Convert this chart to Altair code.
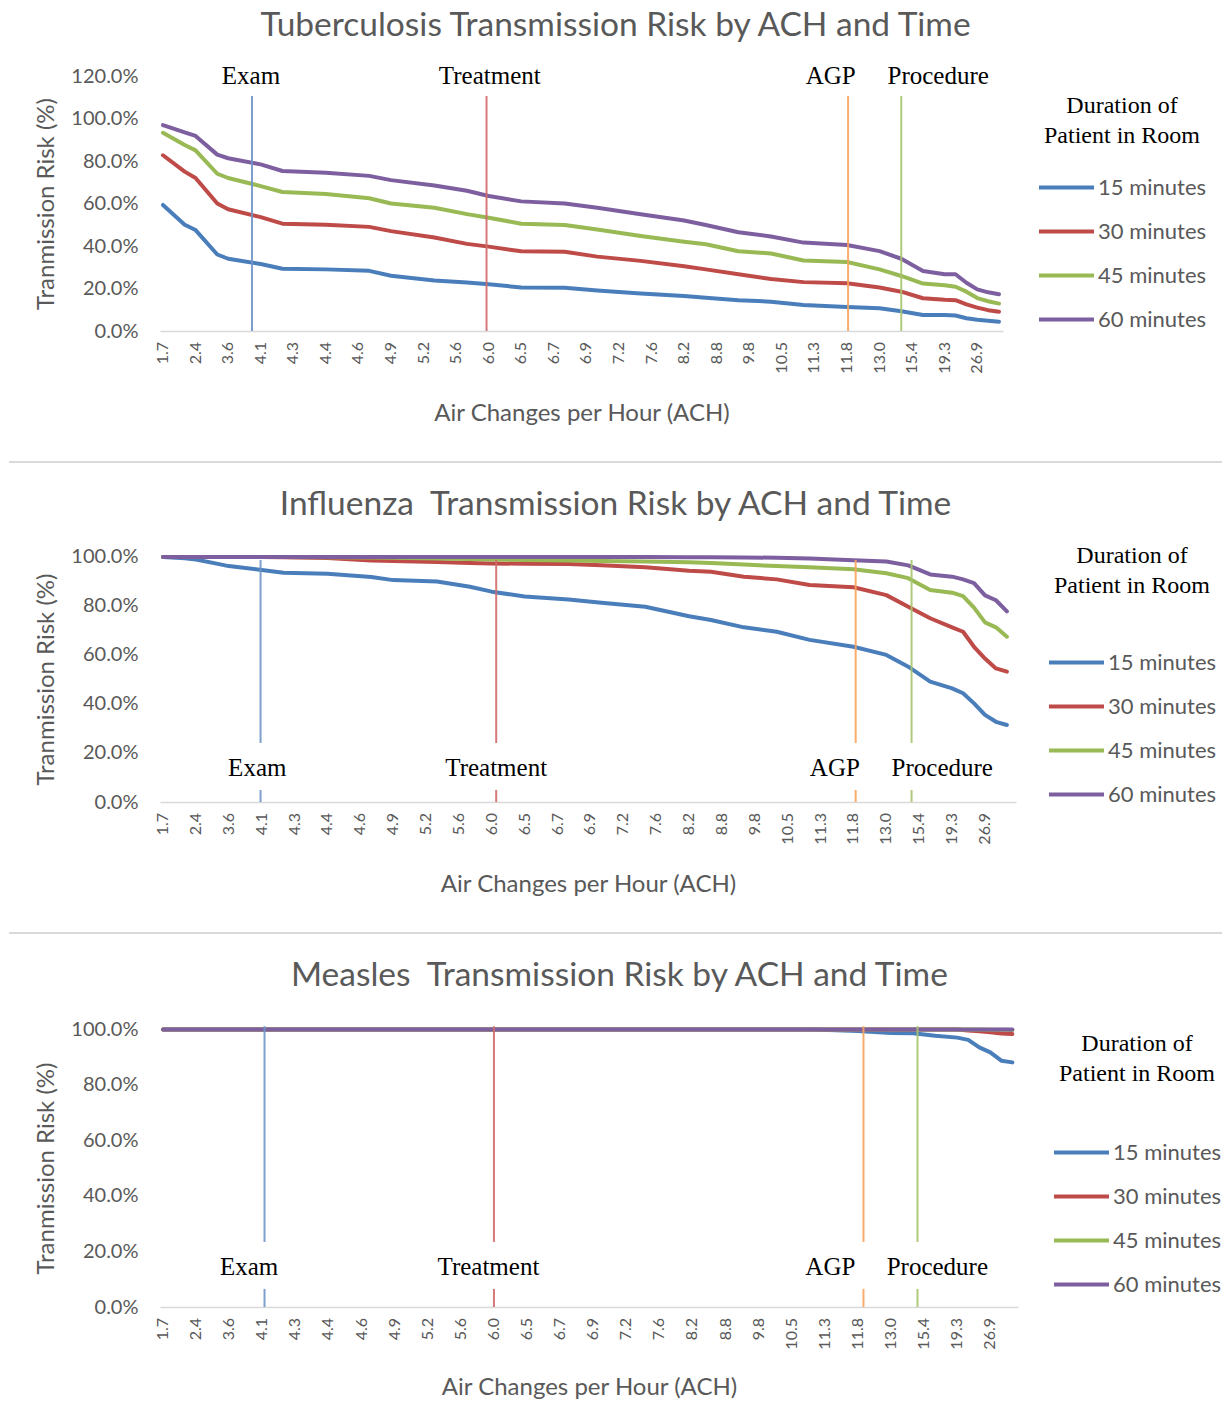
import altair as alt
import pandas as pd

# ---------------- data ----------------
ach_labels = ["1.7", "2.4", "3.6", "4.1", "4.3", "4.4", "4.6", "4.9", "5.2", "5.6",
              "6.0", "6.5", "6.7", "6.9", "7.2", "7.6", "8.2", "8.8", "9.8", "10.5",
              "11.3", "11.8", "13.0", "15.4", "19.3", "26.9"]
# category position (0 = first room) of every value read below; every 3rd category is labelled
pos_idx = [0, 2, 3, 5, 6, 9, 11, 15, 19, 21, 25, 28, 30, 33, 37, 40, 44, 48, 50, 53,
           56, 59, 63, 66, 68, 70, 72, 73, 74, 75, 76, 77]
label_every = 3

series_names = ["15 minutes", "30 minutes", "45 minutes", "60 minutes"]
series_colors = ["#4A7EBB", "#BE4B48", "#98B954", "#7D5FA0"]

tb_15 = [59.3, 50, 47.5, 36, 34, 31.5, 29.3, 29, 28.3, 26, 23.8, 22.8, 22, 20.5, 20.3, 19.1,
         17.6, 16.5, 15.7, 14.5, 13.8, 12.2, 11.3, 10.7, 9.3, 7.5, 7.5, 7.3, 6, 5.3, 4.8, 4.4]
tb_30 = [82.7, 75, 72, 60, 57.3, 53.6, 50.5, 50, 49, 47, 44, 41, 39.7, 37.5, 37.3, 35,
         33, 30.5, 29, 26.7, 24.5, 23, 22.5, 20.5, 18.5, 15.4, 14.7, 14.5, 12.5, 11, 9.8, 9.1]
tb_45 = [93.3, 87.5, 85, 74, 72, 68.2, 65.4, 64.5, 62.5, 60, 58, 55, 53.3, 50.5, 49.9, 47.8,
         44.7, 42, 40.8, 37.5, 36.5, 33.2, 32.5, 29, 25.9, 22.3, 21.5, 20.8, 18.5, 15.5, 14, 12.9]
tb_60 = [96.9, 93.5, 91.8, 83, 81.3, 78.4, 75.3, 74.5, 73, 71, 68.5, 66, 63.5, 61, 60, 58,
         54.9, 52, 49.9, 46.5, 44.5, 41.6, 40.5, 37.6, 34, 28.2, 26.7, 26.7, 22.7, 19.6, 18.2, 17.3]

flu_15 = [99.6, 99.1, 98.6, 96.8, 95.9, 94.3, 93.2, 92.8, 91.5, 90.2, 89.6, 87.5, 85.5, 83.5, 82.3, 81,
          79.4, 75.5, 74, 71, 69.2, 65.9, 63.1, 59.8, 55, 48.9, 46.2, 44.2, 40.1, 35.4, 32.6, 31.3]
flu_30 = [99.6, 99.6, 99.6, 99.6, 99.6, 99.6, 99.5, 99.2, 98.2, 98, 97.6, 97.2, 97, 96.8, 96.7, 96.2,
          95.4, 94, 93.6, 91.6, 90.5, 88.2, 87.3, 84.1, 79.4, 74.7, 71, 69.2, 63.1, 58.3, 54.3, 53]
flu_45 = [99.6, 99.6, 99.6, 99.6, 99.6, 99.6, 99.6, 99.5, 99.4, 99.3, 99, 98.8, 98.6, 98.4, 98.2, 98,
          97.8, 97.5, 97.2, 96.5, 95.9, 95.4, 94.6, 93, 91, 86.2, 85.1, 83.7, 79, 73, 71, 67.2]
flu_60 = [99.6, 99.6, 99.6, 99.6, 99.6, 99.6, 99.6, 99.6, 99.6, 99.6, 99.6, 99.6, 99.6, 99.6, 99.6, 99.6,
          99.6, 99.5, 99.5, 99.4, 99.3, 99, 98.3, 97.8, 96.2, 92.5, 91.6, 90.5, 89, 84, 82, 77.5]

mea_15 = [99.8, 99.8, 99.8, 99.8, 99.8, 99.8, 99.8, 99.8, 99.8, 99.8, 99.8, 99.8, 99.8, 99.8, 99.8, 99.8,
          99.8, 99.8, 99.8, 99.8, 99.8, 99.8, 99.3, 98.6, 98.5, 97.6, 96.9, 96.1, 93.4, 91.6, 88.6, 88]
mea_30 = [99.8, 99.8, 99.8, 99.8, 99.8, 99.8, 99.8, 99.8, 99.8, 99.8, 99.8, 99.8, 99.8, 99.8, 99.8, 99.8,
          99.8, 99.8, 99.8, 99.8, 99.8, 99.8, 99.8, 99.8, 99.8, 99.8, 99.8, 99.5, 99.2, 98.8, 98.4, 98.2]
mea_45 = [99.8, 99.8, 99.8, 99.8, 99.8, 99.8, 99.8, 99.8, 99.8, 99.8, 99.8, 99.8, 99.8, 99.8, 99.8, 99.8,
          99.8, 99.8, 99.8, 99.8, 99.8, 99.8, 99.8, 99.8, 99.8, 99.8, 99.8, 99.8, 99.8, 99.7, 99.7, 99.6]
mea_60 = [99.8, 99.8, 99.8, 99.8, 99.8, 99.8, 99.8, 99.8, 99.8, 99.8, 99.8, 99.8, 99.8, 99.8, 99.8, 99.8,
          99.8, 99.8, 99.8, 99.8, 99.8, 99.8, 99.8, 99.8, 99.8, 99.8, 99.8, 99.8, 99.8, 99.8, 99.8, 99.8]

marker_names = ["Exam", "Treatment", "AGP", "Procedure"]
marker_colors = ["#6E95C9", "#D26A6A", "#F9A35C", "#A7C46E"]
# where each activity line sits on the category axis, per panel
tb_marker_pos = [8.2, 29.8, 63.1, 68.0]
flu_marker_pos = [8.9, 30.4, 63.2, 68.3]
mea_marker_pos = [9.2, 30.0, 63.5, 68.4]
tb_label_pos = [8.1, 30.1, 61.5, 71.4]
flu_label_pos = [8.6, 30.4, 61.3, 71.1]
mea_label_pos = [7.8, 29.5, 60.5, 70.2]

SANS = "Lato"
SERIF = "Liberation Serif"
GREY = "#595959"


def series_frame(values):
    rows = []
    for name, vals in zip(series_names, values):
        for p, v in zip(pos_idx, vals):
            rows.append({"pos": p, "risk": v, "duration": name})
    return pd.DataFrame(rows)


def panel(title, values, y_max, width, height, x_max, marker_pos, rule_top, rule_gap,
          label_pos, label_y, legend_x, legend_y, legend_title_pad, title_offset,
          title_dx, x_title_pad, separator):
    x_scale = alt.Scale(domain=[-0.275, x_max], nice=False, zero=False)
    y_scale = alt.Scale(domain=[0, y_max], nice=False)
    x_axis = alt.Axis(
        values=[label_every * i for i in range(len(ach_labels))],
        labels=False, ticks=False, tickSize=0, grid=False,
        domainColor="#D9D9D9", domainWidth=1.5,
        title="Air Changes per Hour (ACH)", titleFont=SANS, titleFontSize=24,
        titleFontWeight="normal", titleColor=GREY, titlePadding=x_title_pad,
    )
    y_axis = alt.Axis(
        values=list(range(0, y_max + 1, 20)),
        labelExpr="format(datum.value, '.1f') + '%'",
        labelFont=SANS, labelFontSize=20, labelColor=GREY, labelPadding=22,
        ticks=False, tickSize=0, grid=False, domain=False,
        title="Tranmission Risk (%)", titleFont=SANS, titleFontSize=24,
        titleFontWeight="normal", titleColor=GREY, titlePadding=12,
    )

    lines = alt.Chart(series_frame(values)).mark_line(
        strokeWidth=4, strokeJoin="round", strokeCap="round"
    ).encode(
        x=alt.X("pos:Q", scale=x_scale, axis=x_axis),
        y=alt.Y("risk:Q", scale=y_scale, axis=y_axis),
        color=alt.Color(
            "duration:N",
            scale=alt.Scale(domain=series_names, range=series_colors),
            legend=alt.Legend(
                title=["Duration of", "Patient in Room"], orient="none",
                legendX=legend_x, legendY=legend_y,
                titleFont=SERIF, titleFontSize=24, titleFontWeight="normal",
                titleColor="black", titleAnchor="middle", titleAlign="center",
                titleLineHeight=30, titlePadding=legend_title_pad,
                symbolType="stroke", symbolSize=3025, symbolStrokeWidth=4,
                labelFont=SANS, labelFontSize=22, labelColor=GREY, labelOffset=2,
                rowPadding=3, padding=0,
            ),
        ),
    )

    # category labels of the x axis (every 3rd room), written vertically under the axis
    tick_df = pd.DataFrame({
        "pos": [label_every * i for i in range(len(ach_labels))],
        "lab": ach_labels,
    })
    tick_labels = alt.Chart(tick_df).mark_text(
        angle=270, align="right", baseline="middle", font=SANS, fontSize=16, color=GREY
    ).encode(
        x=alt.X("pos:Q", scale=x_scale),
        y=alt.value(height + 11),
        text="lab:N",
    )

    rule_rows = []
    for name, col, p in zip(marker_names, marker_colors, marker_pos):
        if rule_gap is None:
            rule_rows.append({"pos": p, "y1": 0, "y2": rule_top, "col": col})
        else:
            rule_rows.append({"pos": p, "y1": rule_gap[0], "y2": rule_top, "col": col})
            rule_rows.append({"pos": p, "y1": 0, "y2": rule_gap[1], "col": col})
    rules = alt.Chart(pd.DataFrame(rule_rows)).mark_rule(strokeWidth=2, opacity=0.9).encode(
        x=alt.X("pos:Q", scale=x_scale),
        y=alt.Y("y1:Q", scale=y_scale),
        y2="y2:Q",
        stroke=alt.Stroke("col:N", scale=None),
    )

    label_df = pd.DataFrame({"pos": label_pos, "y": [label_y] * 4, "name": marker_names})
    labels = alt.Chart(label_df).mark_text(
        font=SERIF, fontSize=25, color="black", baseline="middle", align="center"
    ).encode(
        x=alt.X("pos:Q", scale=x_scale),
        y=alt.Y("y:Q", scale=y_scale),
        text="name:N",
    )

    layers = [lines, rules, labels, tick_labels]
    if separator:
        sep = alt.Chart(pd.DataFrame({"s": [0]})).mark_rule(
            color="#D9D9D9", strokeWidth=2
        ).encode(
            x=alt.value(-151), x2=alt.value(1062), y=alt.value(height + 131)
        )
        layers.append(sep)

    return alt.layer(*layers).properties(
        width=width, height=height,
        title=alt.TitleParams(
            title, font=SANS, fontSize=33.5, color=GREY, fontWeight="normal",
            anchor="middle", frame="bounds", offset=title_offset, dx=title_dx,
        ),
    )


p1 = panel("Tuberculosis Transmission Risk by ACH and Time",
           [tb_15, tb_30, tb_45, tb_60], 120, 843, 255, 77.37,
           tb_marker_pos, 110.6, None, tb_label_pos, 120, 877, 18, 10, 21, 0, 70, True)
p2 = panel("Influenza\u00a0 Transmission Risk by ACH and Time",
           [flu_15, flu_30, flu_45, flu_60], 100, 856, 246, 77.83,
           flu_marker_pos, 98.4, (24, 4.9), flu_label_pos, 13.8, 887, -12, 35, 22, 0, 70, True)
p3 = panel("Measles\u00a0 Transmission Risk by ACH and Time",
           [mea_15, mea_30, mea_45, mea_60], 100, 858, 278, 77.51,
           mea_marker_pos, 101, (23.4, 6.5), mea_label_pos, 14.4, 892, 3, 37, 26, -9, 68, False)

chart = alt.vconcat(p1, p2, p3, spacing=24).resolve_scale(
    color="independent"
).resolve_legend(
    color="independent"
).properties(
    padding={"left": 0, "top": 0, "right": 0, "bottom": 0},
    background="white",
).configure_view(
    stroke="transparent", strokeWidth=0
)

chart.save("out.html", embed_options={"renderer": "svg", "actions": False})
